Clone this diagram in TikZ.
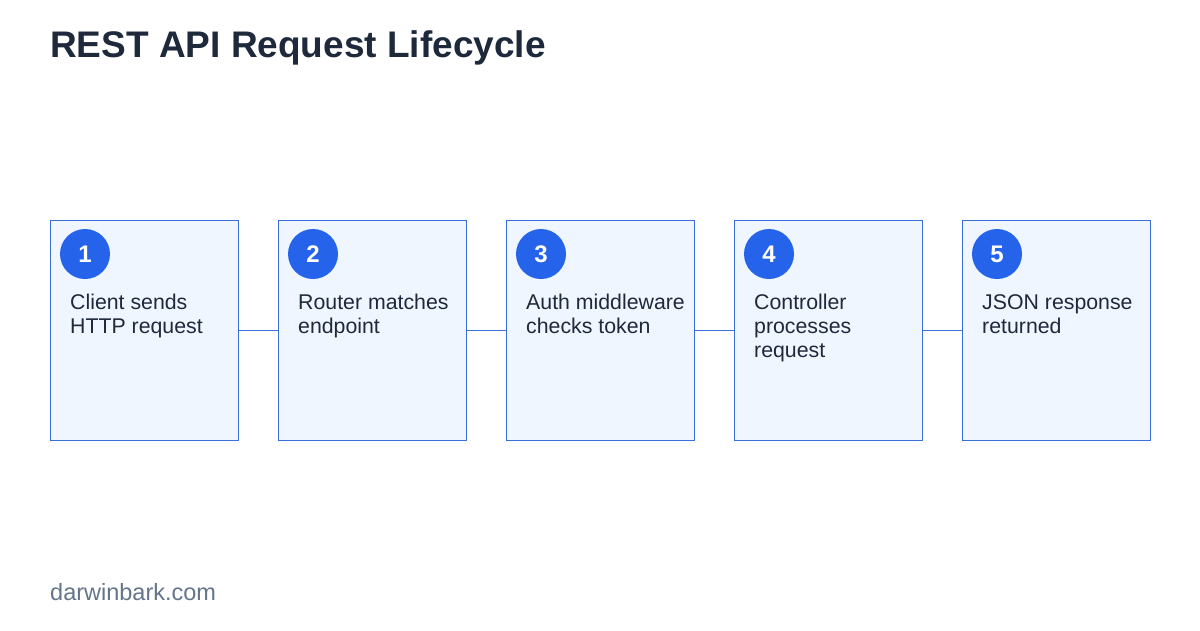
\documentclass[tikz,border=0pt]{standalone}
\usepackage{fontspec}
\setmainfont{Liberation Sans}
\definecolor{boxfill}{HTML}{EFF6FF}
\definecolor{boxline}{HTML}{3B6FD8}
\definecolor{badge}{HTML}{2563EB}
\definecolor{ink}{HTML}{1E293B}
\definecolor{muted}{HTML}{64748B}
\begin{document}
\begin{tikzpicture}[x=1pt,y=-1pt,
  stepbox/.style={draw=boxline,fill=boxfill,line width=0.8pt,minimum width=188pt,minimum height=220pt,anchor=north west,inner sep=0pt},
  badgenode/.style={circle,fill=badge,minimum size=50pt,inner sep=0pt,text=white,font=\fontsize{24}{28}\selectfont\bfseries},
  label/.style={anchor=north west,align=left,text=ink,font=\fontsize{21.3}{24}\selectfont,inner sep=0pt},
  link/.style={draw=boxline,line width=0.8pt}]
\useasboundingbox (0,0) rectangle (1200,630);
\fill[white] (0,0) rectangle (1200,630);
\node[anchor=west,text=ink,font=\fontsize{37}{42}\selectfont\bfseries,inner sep=0pt] (title) at (50,48) {REST API Request Lifecycle};
\foreach \i/\t in {1/{Client sends\\HTTP request},2/{Router matches\\endpoint},3/{Auth middleware\\checks token},4/{Controller\\processes\\request},5/{JSON response\\returned}}{
  \pgfmathsetmacro\xx{50+228*(\i-1)}
  \node[stepbox] (b\i) at (\xx,220) {};
  \node[badgenode] (c\i) at (\xx+35,254) {\i};
  \node[label] (t\i) at (\xx+20,294) {\t};
}
\foreach \a/\b in {1/2,2/3,3/4,4/5}{
  \draw[link] (b\a.east) -- (b\b.west);
}
\node[anchor=west,text=muted,font=\fontsize{23.5}{28}\selectfont,inner sep=0pt] (foot) at (50,592) {darwinbark.com};
\end{tikzpicture}
\end{document}
